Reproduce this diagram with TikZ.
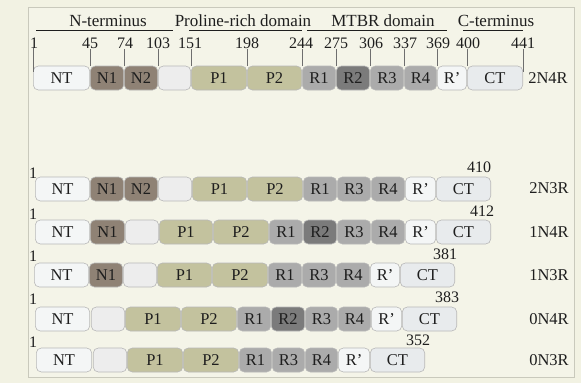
\documentclass[tikz,border=0pt]{standalone}
\usepackage{fontspec}
\setmainfont{Liberation Serif}
\definecolor{bgout}{HTML}{F2F2E3}
\definecolor{bgin}{HTML}{F4F4E8}
\definecolor{framec}{HTML}{C9C9BC}
\definecolor{cNT}{HTML}{F4F6F6}
\definecolor{cN}{HTML}{8F8275}
\definecolor{cB}{HTML}{EDEDED}
\definecolor{cP}{HTML}{C3C29E}
\definecolor{cR}{HTML}{ABABAB}
\definecolor{cRtwo}{HTML}{7B7B7B}
\definecolor{cRp}{HTML}{F4F6F6}
\definecolor{cCT}{HTML}{E8EBED}
\definecolor{txt}{HTML}{1E1E1E}
\definecolor{tickc}{HTML}{6E6E6E}
\newcommand\segrow[3]{%
  \foreach \a/\b/\s/\t [count=\i] in {#3} {%
    \pgfmathsetmacro\cx{(\a+\b)/2}%
    \pgfmathsetmacro\w{\b-\a-0.6}%
    \node[seg,fill=\s,minimum width=\w pt] (#1-\i) at (\cx,#2) {\t};
  }}
\begin{document}
\begin{tikzpicture}[x=1pt,y=-1pt,
  seg/.style={draw=black!28,line width=0.6pt,rounded corners=5pt,minimum height=24pt,inner sep=0pt,text=txt,font=\fontsize{16.5}{18}\selectfont},
  num/.style={text=txt,inner sep=0pt,font=\fontsize{16}{18}\selectfont},
  lab/.style={text=txt,inner sep=0pt,font=\fontsize{16.5}{18}\selectfont},
  hdr/.style={text=txt,inner sep=0pt,font=\fontsize{17}{19}\selectfont},
  tickl/.style={draw=tickc,line width=0.6pt},
  uline/.style={draw=txt,line width=0.6pt}]
\useasboundingbox (0,0) rectangle (581,383);
\fill[bgout] (0,0) rectangle (581,383);
\draw[framec,fill=bgin,line width=0.8pt] (28,7) rectangle (574,377);

% header
\node[hdr] (hN) at (108,21) {N-terminus};
\node[hdr] (hP) at (243,21) {Proline-rich domain};
\node[hdr] (hM) at (383,21) {MTBR domain};
\node[hdr] (hC) at (496,21) {C-terminus};
\draw[uline] (36,30) -- (173,30);
\draw[uline] (189,30) -- (302,30);
\draw[uline] (307,30) -- (447,30);
\draw[uline] (463,30) -- (523,30);

% row 1: 2N4R
\segrow{ra}{78}{33/90/cNT/NT, 90/124/cN/N1, 124/158/cN/N2, 158/191/cB/, 191/247/cP/P1, 247/302/cP/P2, 302/336/cR/R1, 336/370/cRtwo/R2, 370/404/cR/R3, 404/437/cR/R4, 437/467/cRp/R', 467/523/cCT/CT}
\foreach \x/\n [count=\k] in {34/1, 90/45, 125/74, 158/103, 190/151, 247/198, 301/244, 336/275, 371/306, 405/337, 438/369, 468/400, 523/441}
  \node[num] (na-\k) at (\x,43) {\n};
\draw[tickl] (ra-1.north west) ++(0,-18) -- ++(0,24);
\foreach \i in {2,...,12}
  \draw[tickl] (ra-\i.north west) -- ++(0,-17);
\draw[tickl] (ra-12.north east) ++(0,-17) -- ++(0,23);
\node[lab] (la) at (548,78) {2N4R};

% row 2: 2N3R
\segrow{rb}{189}{35/90/cNT/NT, 90/124/cN/N1, 124/158/cN/N2, 158/192/cB/, 192/247/cP/P1, 247/303/cP/P2, 303/337/cR/R1, 337/371/cR/R3, 371/405/cR/R4, 405/436/cRp/R', 436/491/cCT/CT}
\node[num] (sb) at (33,173) {1};
\node[num] (eb) at (479,167) {410};
\node[lab] (lb) at (549,188) {2N3R};

% row 3: 1N4R
\segrow{rc}{232}{35/90/cNT/NT, 90/125/cN/N1, 125/159/cB/, 159/213/cP/P1, 213/269/cP/P2, 269/303/cR/R1, 303/337/cRtwo/R2, 337/371/cR/R3, 371/405/cR/R4, 405/436/cRp/R', 436/491/cCT/CT}
\node[num] (sc) at (33,214) {1};
\node[num] (ec) at (482,211) {412};
\node[lab] (lc) at (549,232) {1N4R};

% row 4: 1N3R
\segrow{rd}{275}{34/89/cNT/NT, 89/123/cN/N1, 123/157/cB/, 157/212/cP/P1, 212/268/cP/P2, 268/302/cR/R1, 302/336/cR/R3, 336/370/cR/R4, 370/400/cRp/R', 400/455/cCT/CT}
\node[num] (sd) at (33,256) {1};
\node[num] (ed) at (445,254) {381};
\node[lab] (ld) at (549,275) {1N3R};

% row 5: 0N4R
\segrow{re}{319}{35/90/cNT/NT, 91/125/cB/, 125/181/cP/P1, 181/237/cP/P2, 237/271/cR/R1, 271/305/cRtwo/R2, 305/338/cR/R3, 338/371/cR/R4, 371/402/cRp/R', 402/457/cCT/CT}
\node[num] (se) at (33,299) {1};
\node[num] (ee) at (447,297) {383};
\node[lab] (le) at (549,319) {0N4R};

% row 6: 0N3R
\segrow{rf}{360}{36/92/cNT/NT, 93/127/cB/, 127/183/cP/P1, 183/239/cP/P2, 239/272/cR/R1, 272/305/cR/R3, 305/338/cR/R4, 338/370/cRp/R', 370/425/cCT/CT}
\node[num] (sf) at (33,342) {1};
\node[num] (ef) at (418,340) {352};
\node[lab] (lf) at (549,360) {0N3R};
\end{tikzpicture}
\end{document}
